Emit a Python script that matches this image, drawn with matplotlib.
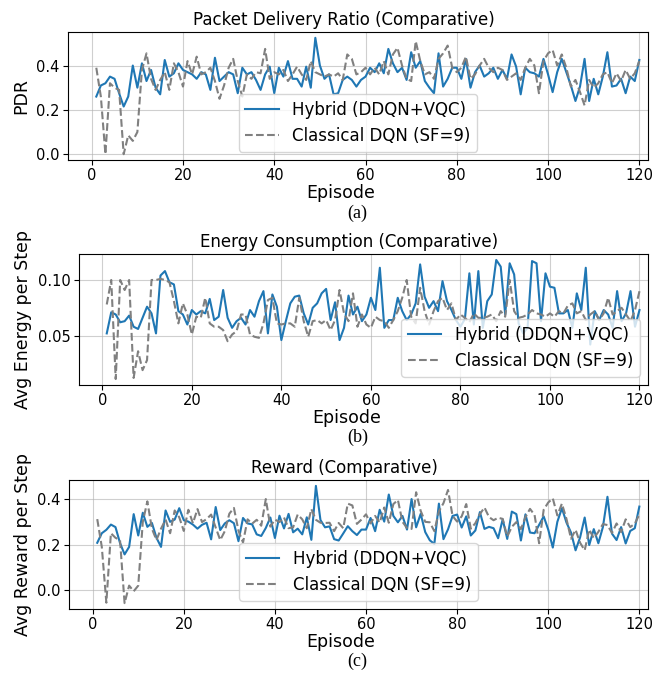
import matplotlib
matplotlib.use("Agg")
import matplotlib.pyplot as plt
import numpy as np

# episodes 1..120
episodes = np.arange(1, 121)

pdr_hybrid = [
    0.26, 0.31, 0.32, 0.35, 0.34, 0.275, 0.215, 0.26, 0.40, 0.30,
    0.41, 0.33, 0.38, 0.30, 0.27, 0.425, 0.35, 0.365, 0.41, 0.38,
    0.37, 0.36, 0.34, 0.37, 0.36, 0.29, 0.435, 0.33, 0.35, 0.37,
    0.36, 0.275, 0.39, 0.36, 0.37, 0.335, 0.29, 0.36, 0.395, 0.275,
    0.39, 0.35, 0.42, 0.34, 0.34, 0.305, 0.395, 0.30, 0.525, 0.40,
    0.34, 0.36, 0.27, 0.275, 0.335, 0.35, 0.335, 0.305, 0.335, 0.35,
    0.39, 0.37, 0.41, 0.365, 0.475, 0.41, 0.37, 0.39, 0.335, 0.46,
    0.39, 0.42, 0.33, 0.30, 0.275, 0.455, 0.305, 0.34, 0.39, 0.39,
    0.34, 0.43, 0.30, 0.37, 0.40, 0.35, 0.365, 0.39, 0.34, 0.38,
    0.34, 0.45, 0.395, 0.27, 0.39, 0.37, 0.365, 0.35, 0.43, 0.36,
    0.28, 0.37, 0.43, 0.37, 0.31, 0.24, 0.305, 0.43, 0.24, 0.34,
    0.27, 0.35, 0.46, 0.305, 0.31, 0.34, 0.275, 0.35, 0.33, 0.425,
]
pdr_classical = [
    0.39, 0.26, 0.0, 0.32, 0.30, 0.29, 0.0, 0.085, 0.06, 0.10,
    0.38, 0.455, 0.34, 0.29, 0.335, 0.37, 0.29, 0.41, 0.37, 0.305,
    0.42, 0.36, 0.44, 0.36, 0.37, 0.39, 0.33, 0.25, 0.31, 0.39,
    0.43, 0.33, 0.26, 0.36, 0.34, 0.37, 0.365, 0.475, 0.34, 0.37,
    0.36, 0.38, 0.33, 0.36, 0.395, 0.36, 0.335, 0.42, 0.37, 0.36,
    0.35, 0.36, 0.35, 0.365, 0.335, 0.45, 0.43, 0.36, 0.37, 0.39,
    0.36, 0.39, 0.36, 0.42, 0.36, 0.45, 0.48, 0.40, 0.34, 0.33,
    0.51, 0.42, 0.36, 0.37, 0.34, 0.43, 0.455, 0.49, 0.39, 0.37,
    0.39, 0.44, 0.34, 0.36, 0.40, 0.43, 0.39, 0.37, 0.39, 0.38,
    0.335, 0.35, 0.365, 0.335, 0.39, 0.43, 0.40, 0.275, 0.42, 0.455,
    0.47, 0.40, 0.45, 0.39, 0.305, 0.335, 0.28, 0.22, 0.335, 0.30,
    0.32, 0.36, 0.37, 0.32, 0.365, 0.33, 0.38, 0.34, 0.365, 0.42,
]

energy_hybrid = [
    0.052, 0.071, 0.069, 0.062, 0.063, 0.068, 0.058, 0.056, 0.066, 0.076,
    0.070, 0.052, 0.104, 0.108, 0.098, 0.096, 0.072, 0.069, 0.060, 0.073,
    0.069, 0.072, 0.070, 0.083, 0.064, 0.067, 0.091, 0.066, 0.057, 0.063,
    0.066, 0.060, 0.073, 0.067, 0.081, 0.090, 0.052, 0.087, 0.076, 0.046,
    0.063, 0.079, 0.085, 0.086, 0.070, 0.060, 0.075, 0.079, 0.088, 0.092,
    0.064, 0.080, 0.046, 0.057, 0.086, 0.069, 0.076, 0.063, 0.069, 0.084,
    0.073, 0.111, 0.057, 0.064, 0.064, 0.084, 0.072, 0.064, 0.069, 0.079,
    0.114, 0.085, 0.075, 0.081, 0.072, 0.099, 0.081, 0.073, 0.064, 0.058,
    0.065, 0.106, 0.060, 0.108, 0.057, 0.081, 0.087, 0.118, 0.112, 0.069,
    0.115, 0.105, 0.061, 0.052, 0.057, 0.117, 0.115, 0.063, 0.106, 0.094,
    0.093, 0.070, 0.070, 0.073, 0.057, 0.088, 0.073, 0.111, 0.042, 0.072,
    0.064, 0.073, 0.069, 0.057, 0.090, 0.063, 0.070, 0.090, 0.058, 0.073,
]
energy_classical = [
    0.078, 0.100, 0.011, 0.100, 0.091, 0.100, 0.012, 0.036, 0.019, 0.028,
    0.100, 0.100, 0.101, 0.100, 0.098, 0.081, 0.061, 0.079, 0.069, 0.051,
    0.067, 0.066, 0.084, 0.061, 0.058, 0.058, 0.055, 0.045, 0.051, 0.054,
    0.069, 0.069, 0.051, 0.049, 0.048, 0.061, 0.082, 0.084, 0.061, 0.060,
    0.061, 0.061, 0.058, 0.084, 0.063, 0.049, 0.063, 0.064, 0.061, 0.064,
    0.055, 0.064, 0.091, 0.070, 0.063, 0.088, 0.058, 0.069, 0.060, 0.057,
    0.067, 0.064, 0.063, 0.057, 0.064, 0.072, 0.084, 0.100, 0.067, 0.061,
    0.093, 0.072, 0.060, 0.072, 0.081, 0.084, 0.073, 0.079, 0.064, 0.069,
    0.066, 0.062, 0.070, 0.066, 0.066, 0.067, 0.069, 0.063, 0.072, 0.067,
    0.100, 0.072, 0.066, 0.067, 0.069, 0.073, 0.070, 0.069, 0.067, 0.070,
    0.067, 0.072, 0.070, 0.077, 0.079, 0.070, 0.072, 0.064, 0.069, 0.072,
    0.064, 0.070, 0.084, 0.069, 0.072, 0.075, 0.069, 0.063, 0.073, 0.090,
]

reward_hybrid = [
    0.208, 0.25, 0.265, 0.288, 0.277, 0.207, 0.157, 0.19, 0.334, 0.24,
    0.34, 0.278, 0.295, 0.23, 0.19, 0.35, 0.30, 0.31, 0.36, 0.307,
    0.301, 0.288, 0.27, 0.287, 0.296, 0.223, 0.365, 0.264, 0.293, 0.307,
    0.294, 0.215, 0.317, 0.293, 0.289, 0.245, 0.238, 0.273, 0.319, 0.229,
    0.327, 0.271, 0.335, 0.254, 0.27, 0.245, 0.32, 0.221, 0.458, 0.308,
    0.276, 0.28, 0.224, 0.218, 0.249, 0.281, 0.259, 0.242, 0.266, 0.266,
    0.317, 0.259, 0.353, 0.301, 0.42, 0.326, 0.298, 0.326, 0.266, 0.40,
    0.276, 0.335, 0.255, 0.219, 0.203, 0.38, 0.224, 0.267, 0.326, 0.332,
    0.275, 0.324, 0.24, 0.262, 0.343, 0.269, 0.278, 0.272, 0.228, 0.311,
    0.225, 0.345, 0.334, 0.218, 0.333, 0.253, 0.25, 0.287, 0.324, 0.266,
    0.187, 0.30, 0.36, 0.297, 0.253, 0.175, 0.232, 0.319, 0.198, 0.268,
    0.206, 0.277, 0.41, 0.248, 0.22, 0.277, 0.205, 0.26, 0.272, 0.367,
]
reward_classical = [
    0.312, 0.19, -0.055, 0.25, 0.23, 0.22, -0.057, 0.02, -0.005, 0.02,
    0.30, 0.39, 0.27, 0.22, 0.27, 0.31, 0.25, 0.35, 0.32, 0.26,
    0.353, 0.294, 0.356, 0.299, 0.312, 0.332, 0.275, 0.22, 0.259, 0.336,
    0.361, 0.261, 0.209, 0.311, 0.292, 0.309, 0.283, 0.40, 0.279, 0.31,
    0.299, 0.319, 0.272, 0.276, 0.332, 0.311, 0.272, 0.356, 0.309, 0.296,
    0.295, 0.296, 0.259, 0.295, 0.272, 0.38, 0.372, 0.291, 0.31, 0.333,
    0.293, 0.326, 0.297, 0.363, 0.296, 0.378, 0.396, 0.30, 0.273, 0.269,
    0.43, 0.348, 0.30, 0.298, 0.259, 0.346, 0.382, 0.44, 0.326, 0.301,
    0.324, 0.378, 0.27, 0.294, 0.334, 0.363, 0.321, 0.307, 0.318, 0.313,
    0.235, 0.278, 0.299, 0.268, 0.321, 0.357, 0.33, 0.206, 0.353, 0.385,
    0.403, 0.328, 0.38, 0.313, 0.226, 0.265, 0.208, 0.175, 0.266, 0.228,
    0.256, 0.29, 0.286, 0.251, 0.293, 0.255, 0.311, 0.277, 0.292, 0.332,
]

W, H = 671, 679
fig = plt.figure(figsize=(W / 100, H / 100), dpi=100)


def px_axes(left, top, right, bottom):
    return fig.add_axes([left / W, 1 - bottom / H, (right - left) / W, (bottom - top) / H])


panels = [
    (px_axes(68, 32, 648, 160), 128, pdr_hybrid, pdr_classical,
     "Packet Delivery Ratio (Comparative)", "PDR", "lower center", "(a)", 213),
    (px_axes(79, 254, 648, 385), 131, energy_hybrid, energy_classical,
     "Energy Consumption (Comparative)", "Avg Energy per Step", "lower right", "(b)", 437),
    (px_axes(69, 480, 648, 609), 129, reward_hybrid, reward_classical,
     "Reward (Comparative)", "Avg Reward per Step", "lower center", "(c)", 661),
]

for ax, h_px, hyb, cls, title, ylab, loc, cap, cap_y in panels:
    ax.plot(episodes, hyb, color="#1f77b4", lw=1.5, label="Hybrid (DDQN+VQC)")
    ax.plot(episodes, cls, color="gray", ls="--", lw=1.5, label="Classical DQN (SF=9)")
    ax.set_xlim(-5.2, 121.9)
    ax.set_title(title, fontsize=12, pad=5, x=0.475)
    ax.set_xlabel("Episode", fontsize=12.5)
    ax.xaxis.set_label_coords(0.47, -33 / h_px)
    ax.xaxis.label.set_va("center")
    ax.set_ylabel(ylab, fontsize=12.5)
    ax.tick_params(labelsize=10.5, pad=2.5)
    ax.grid(True, alpha=0.6)
    ax.legend(loc=loc, fontsize=12)
    fig.text(0.533, 1 - cap_y / H, cap, ha="center", va="center",
             family="Liberation Serif", fontsize=13)

fig.savefig("out.png", dpi=100)
